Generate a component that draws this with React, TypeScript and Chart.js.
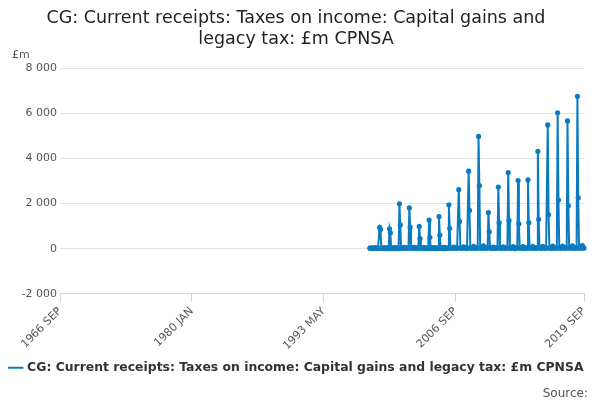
import React, { useEffect, useRef } from "react";
import { Chart, registerables } from "chart.js";
Chart.register(...registerables);

const MONTHS = ["JAN","FEB","MAR","APR","MAY","JUN","JUL","AUG","SEP","OCT","NOV","DEC"];
const startYear = 1966, startMonth = 8; // SEP
const endYear = 2019, endMonth = 8;
const dataStartYear = 1998;
const years = [1999,2000,2001,2002,2003,2004,2005,2006,2007,2008,2009,2010,2011,2012,2013,2014,2015,2016,2017,2018,2019];
const janValues = [940,880,1985,1805,985,1270,1420,1940,2610,3430,4970,1600,2730,3370,3015,3045,4310,5480,6015,5655,6745];
const febValues = [850,700,1050,950,450,500,600,900,1200,1700,2790,750,1150,1250,1100,1150,1300,1500,2150,1900,2250];
const julValues = [40,50,60,60,50,50,60,70,80,100,120,70,80,90,90,90,100,110,110,120,130];
const baseValue = [20,20,25,25,20,20,20,25,25,30,30,25,25,25,25,25,30,30,30,30,30];
const tickLabels = ["1966 SEP","1980 JAN","1993 MAY","2006 SEP","2019 SEP"];

const labels: string[] = [];
const values: (number | null)[] = [];
for (let y = startYear, m = startMonth; y < endYear || (y === endYear && m <= endMonth); ) {
  labels.push(`${y} ${MONTHS[m]}`);
  if (y < dataStartYear) values.push(null);
  else {
    const i = years.indexOf(y);
    const idx = i >= 0 ? i : (y < 1999 ? 0 : years.length - 1);
    if (m === 0 && i >= 0) values.push(janValues[i]);
    else if (m === 1 && i >= 0) values.push(febValues[i]);
    else if (m === 6) values.push(julValues[idx]);
    else values.push(baseValue[idx]);
  }
  m++; if (m > 11) { m = 0; y++; }
}

export default function App() {
  const ref = useRef<HTMLCanvasElement>(null);
  useEffect(() => {
    const font = "'DejaVu Sans', sans-serif";
    const chart = new Chart(ref.current!, {
      type: "line",
      data: { labels, datasets: [{
        label: "CG: Current receipts: Taxes on income: Capital gains and legacy tax: £m CPNSA",
        data: values, borderColor: "#0b7bc1", backgroundColor: "#0b7bc1",
        borderWidth: 2, pointRadius: 1.6, pointHoverRadius: 3, tension: 0, spanGaps: false,
      }]},
      options: {
        animation: false, responsive: false, maintainAspectRatio: false,
        layout: { padding: { left: 8, right: 16, top: 0, bottom: 16 } },
        plugins: {
          title: { display: true, text: ["CG: Current receipts: Taxes on income: Capital gains and", "legacy tax: £m CPNSA"],
            color: "#222", font: { family: font, size: 17.5, weight: "normal", lineHeight: 1.2 }, padding: { top: 8, bottom: 18 } },
          legend: { position: "bottom", labels: { usePointStyle: true, pointStyle: "line", color: "#333",
            font: { family: font, size: 12.4, weight: "bold" }, boxWidth: 20, padding: 6 } },
          tooltip: { enabled: false },
        },
        scales: {
          x: {
            grid: { display: true, drawOnChartArea: false, drawTicks: true, tickLength: 8, color: "#c8d6e6" },
            border: { color: "#c8d6e6" },
            ticks: { autoSkip: false, maxRotation: 45, minRotation: 45, color: "#555",
              font: { family: font, size: 11 },
              callback: (_v: any, i: number) => tickLabels.includes(labels[i]) ? labels[i] : null },
          },
          y: {
            min: -2000, max: 8000,
            ticks: { stepSize: 2000, color: "#555", font: { family: font, size: 11 },
              callback: (v: any) => Number(v).toLocaleString("en").replace(/,/g, " ") },
            grid: { color: "#e3e3e3", drawTicks: false }, border: { display: false },
            afterFit: (s: any) => { s.width = 52; },
          },
        },
      },
      plugins: [{
        id: "extra",
        afterDraw(c: any) {
          const ctx = c.ctx; ctx.save();
          ctx.font = `11px ${font}`; ctx.fillStyle = "#555";
          ctx.textAlign = "left"; ctx.fillText("£m", 12, 55);
          ctx.textAlign = "right"; ctx.font = `12px ${font}`; ctx.fillText("Source:", 588, 394);
          ctx.restore();
        },
      }],
    } as any);
    return () => chart.destroy();
  }, []);
  return <div style={{ position: "fixed", left: 0, top: 0, width: 600, height: 400, background: "#fff" }}>
    <canvas ref={ref} width={600} height={400} />
  </div>;
}
